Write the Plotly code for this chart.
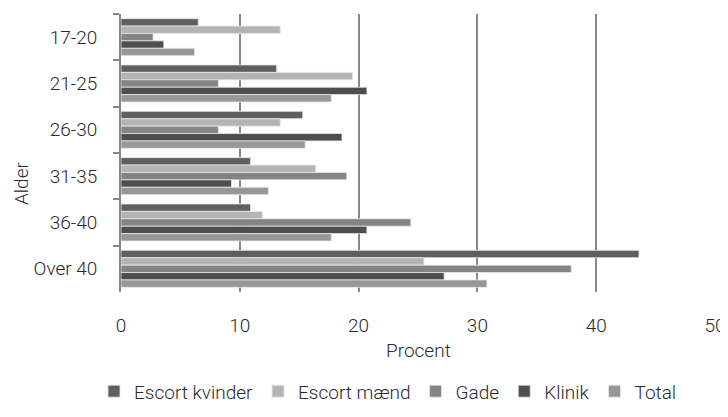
import plotly.graph_objects as go

categories = ["17-20", "21-25", "26-30", "31-35", "36-40", "Over 40"]
series_names = ["Escort kvinder", "Escort mænd", "Gade", "Klinik", "Total"]
escort_kvinder = [6.5, 13.1, 15.3, 10.9, 10.9, 43.6]
escort_maend = [13.4, 19.5, 13.4, 16.4, 11.9, 25.5]
gade = [2.7, 8.2, 8.2, 19.0, 24.4, 37.9]
klinik = [3.6, 20.7, 18.6, 9.3, 20.7, 27.2]
total = [6.2, 17.7, 15.5, 12.4, 17.7, 30.8]
colors = ["#5f5f5f", "#b4b4b4", "#848484", "#4e4e4e", "#979797"]
x_ticks = [0, 10, 20, 30, 40, 50]

values = [escort_kvinder, escort_maend, gade, klinik, total]

fig = go.Figure()
for name, vals, col in zip(series_names, values, colors):
    fig.add_trace(go.Bar(
        y=categories, x=vals, name=name, orientation="h",
        marker=dict(color=col, line=dict(color="#e8e8e8", width=0.8)),
    ))

# page body has an 8px margin: keep figure inside the window
OFF = 8
W, H = 720, 409
L, T, R = 113, 6, 13
B = H - (296 - OFF)
pw, ph = W - L - R, H - T - B

def py(page_y):
    # page pixel y -> paper y
    return ((H - B) - (page_y - OFF)) / ph

def px(page_x):
    return ((page_x - OFF) - L) / pw

font_family = "Roboto, DejaVu Sans, sans-serif"
txt = dict(family=font_family, size=19, color="#2a2a2a", weight=300)
fig.update_layout(
    width=W, height=H,
    barmode="group", bargap=0.2, bargroupgap=0,
    plot_bgcolor="white", paper_bgcolor="white",
    margin=dict(l=L, r=R, t=T, b=B),
    font=txt,
    legend=dict(orientation="h", x=px(388), xanchor="center",
                y=py(416), yanchor="bottom",
                font=txt, itemwidth=30, traceorder="normal"),
    showlegend=True,
    annotations=[
        dict(text="Procent", xref="paper", yref="paper", x=px(418), y=py(355),
             xanchor="center", yanchor="middle", showarrow=False, font=txt),
        dict(text="Alder", xref="paper", yref="paper", x=px(8), y=py(186),
             xanchor="left", yanchor="middle", showarrow=False, font=txt, textangle=-90),
    ],
)
fig.update_xaxes(
    range=[0, 50], tickvals=x_ticks, showgrid=True, gridcolor="#888888", gridwidth=1.6,
    zeroline=False, showline=False, ticks="", ticklabelstandoff=20, automargin=False,
    ticklabeloverflow="allow", tickfont=txt,
)
fig.update_yaxes(
    autorange="reversed", showline=True, linecolor="#888888", linewidth=1.6,
    ticks="outside", tickson="boundaries", ticklen=6, tickcolor="#888888", tickwidth=1.6,
    showgrid=False, ticklabelstandoff=18, automargin=False,
    tickfont=txt,
)
fig.write_html("out.html")
